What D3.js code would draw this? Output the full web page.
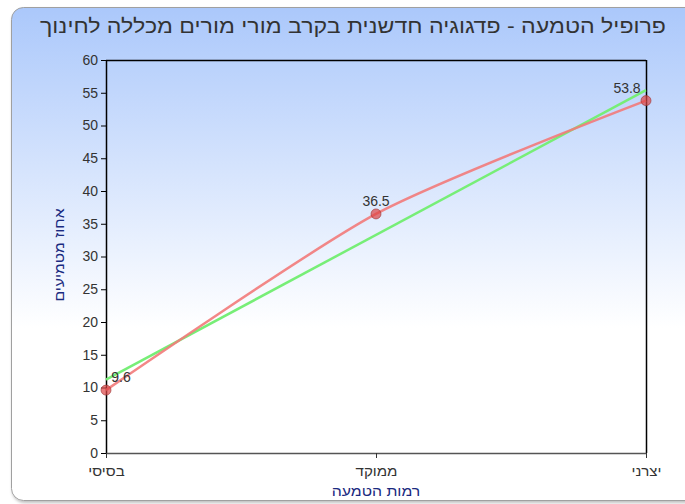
<!DOCTYPE html>
<html><head><meta charset="utf-8">
<script src="https://cdn.jsdelivr.net/npm/d3@7"></script>
<style>body{margin:0;background:#fff;overflow:hidden}svg{display:block}</style>
</head><body>
<script>
const title = "פרופיל הטמעה - פדגוגיה חדשנית בקרב מורי מורים מכללה לחינוך";
const categories = ["בסיסי", "ממוקד", "יצרני"];
const values = [9.6, 36.5, 53.8];
const trendValues = [11.2, 55.4];
const yTicks = [0,5,10,15,20,25,30,35,40,45,50,55,60];
const xTitle = "רמות הטמעה";
const yTitle = "אחוז מטמיעים";

(function(){
const W = 685, H = 504;
const svg = d3.select("body").append("svg").attr("width", W).attr("height", H);
const defs = svg.append("defs");
const g1 = defs.append("linearGradient").attr("id","bg").attr("x1",0).attr("y1",0).attr("x2",0).attr("y2",1);
g1.append("stop").attr("offset","0%").attr("stop-color","#abc8fb");
g1.append("stop").attr("offset","65%").attr("stop-color","#ffffff");
g1.append("stop").attr("offset","100%").attr("stop-color","#ffffff");
const f = defs.append("filter").attr("id","sh").attr("x","-5%").attr("y","-5%").attr("width","110%").attr("height","110%");
f.append("feDropShadow").attr("dx",1).attr("dy",2).attr("stdDeviation",1.5).attr("flood-color","#000").attr("flood-opacity",0.25);

svg.append("rect").attr("x",11.5).attr("y",7.5).attr("width",690).attr("height",493).attr("rx",12)
  .attr("fill","url(#bg)").attr("stroke","#a0a0a0").attr("filter","url(#sh)");

const font = "'Liberation Sans', Arial, sans-serif";
const pl = 106, pr = 646, pt = 60, pb = 453;
const x = d3.scalePoint().domain(categories).range([pl, pr]);
const y = d3.scaleLinear().domain([0, 60]).range([pb, pt]);

function widen(sel, k) {
  sel.each(function(){
    const w = this.getComputedTextLength();
    d3.select(this).attr("textLength", w*k).attr("lengthAdjust","spacingAndGlyphs");
  });
}

const tt = svg.append("text").attr("x", 353).attr("y", 33).attr("text-anchor","middle")
  .attr("direction","rtl").attr("font-family",font).attr("font-size",19.5).attr("fill","#333")
  .text(title);
tt.attr("textLength", 626).attr("lengthAdjust","spacingAndGlyphs");

// frame lines
svg.append("line").attr("x1",pl).attr("x2",pr).attr("y1",pt+0.5).attr("y2",pt+0.5).attr("stroke","#000").attr("stroke-width",1.5);
svg.append("line").attr("x1",pr+0.5).attr("x2",pr+0.5).attr("y1",pt).attr("y2",pb).attr("stroke","#000").attr("stroke-width",1.5);

// y axis
const ya = svg.append("g").attr("transform",`translate(${pl},0)`)
  .call(d3.axisLeft(y).tickValues(yTicks).tickSize(5).tickPadding(3).tickSizeOuter(0));
ya.select(".domain").attr("stroke","#000").attr("stroke-width",1.5);
ya.selectAll(".tick line").attr("stroke","#000");
ya.selectAll("text").attr("font-family",font).attr("font-size",14).attr("fill","#333");

// x axis
const xa = svg.append("g").attr("transform",`translate(0,${pb})`)
  .call(d3.axisBottom(x).tickSize(5).tickPadding(5).tickSizeOuter(0));
xa.select(".domain").attr("stroke","#555").attr("stroke-width",1.5);
xa.selectAll(".tick line").attr("stroke","#333");
xa.selectAll("text").attr("font-family",font).attr("font-size",13.5).attr("fill","#333").attr("direction","rtl").attr("dy","0.95em");
widen(xa.selectAll("text"), 1.12);

// axis titles
const xt = svg.append("text").attr("x", 376).attr("y", 496).attr("text-anchor","middle").attr("direction","rtl")
  .attr("font-family",font).attr("font-size",14).attr("fill","#1a2a80").text(xTitle);
widen(xt, 1.13);
const ytt = svg.append("text").attr("transform","translate(64,255) rotate(-90)").attr("text-anchor","middle").attr("direction","rtl")
  .attr("font-family",font).attr("font-size",14).attr("fill","#1a2a80").text(yTitle);
widen(ytt, 1.12);

// trend line
svg.append("line").attr("x1", x(categories[0])).attr("y1", y(trendValues[0]))
  .attr("x2", x(categories[2])).attr("y2", y(trendValues[1]))
  .attr("stroke","#77ee77").attr("stroke-width",2.5);

// data curve
const line = d3.line().x((d,i)=>x(categories[i])).y(d=>y(d)).curve(d3.curveCardinal.tension(0.3));
svg.append("path").datum(values).attr("d", line).attr("fill","none")
  .attr("stroke","#f27a7a").attr("stroke-width",2.5).attr("stroke-opacity",0.9);

svg.selectAll("circle.pt").data(values).join("circle").attr("class","pt")
  .attr("cx",(d,i)=>x(categories[i])).attr("cy",d=>y(d)).attr("r",5)
  .attr("fill","#dd4444").attr("fill-opacity",0.7).attr("stroke","#993333").attr("stroke-opacity",0.6);

// labels
const lblOff = [15, 0, -19];
svg.selectAll("text.lbl").data(values).join("text").attr("class","lbl")
  .attr("x",(d,i)=>x(categories[i]) + lblOff[i]).attr("y",d=>y(d)-8)
  .attr("text-anchor","middle").attr("font-family",font).attr("font-size",14).attr("fill","#333")
  .text(d=>d);
})();
</script>
</body></html>
